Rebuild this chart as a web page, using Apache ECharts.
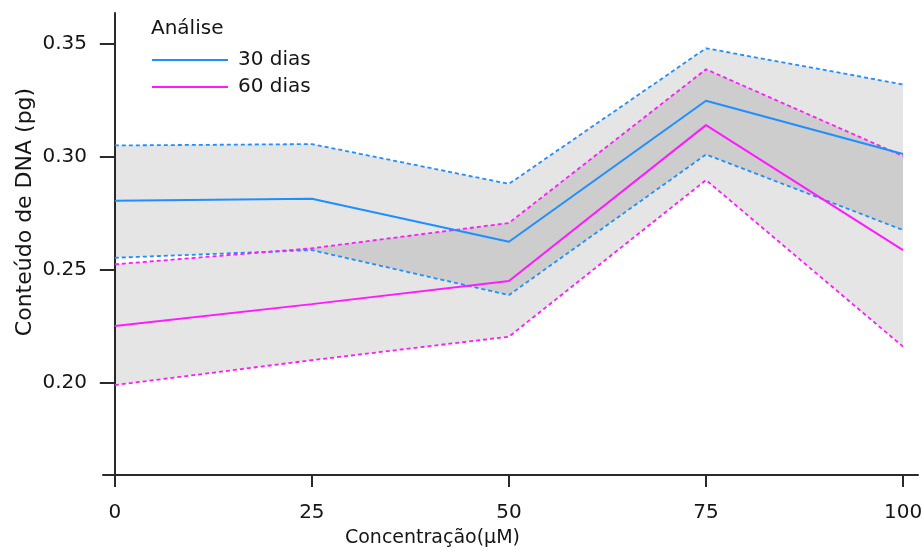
<!DOCTYPE html>
<html>
<head>
<meta charset="utf-8">
<script src="https://cdn.jsdelivr.net/npm/echarts@6/dist/echarts.min.js"></script>
<style>
  html, body { margin: 0; padding: 0; background: #fff; }
  #chart { width: 922px; height: 552px; }
</style>
</head>
<body>
<div id="chart"></div>
<script>
// concentration (µM)
const concentracao = [0, 25, 50, 75, 100];

// 30 dias: mean and band limits
const media30 = [0.2805, 0.2814, 0.2624, 0.3248, 0.3012];
const sup30 = [0.3050, 0.3056, 0.2880, 0.3480, 0.3320];
const inf30 = [0.2553, 0.2587, 0.2388, 0.3010, 0.2676];

// 60 dias: mean and band limits
const media60 = [0.2251, 0.2348, 0.2450, 0.3140, 0.2587];
const sup60 = [0.2524, 0.2595, 0.2707, 0.3387, 0.3003];
const inf60 = [0.1990, 0.2100, 0.2204, 0.2897, 0.2160];

const xTicks = [0, 25, 50, 75, 100];
const yTicks = [0.20, 0.25, 0.30, 0.35];

const AZUL = '#1f8fff';
const ROSA = '#ff1aff';
const FONTE = 'DejaVu Sans';
const TEXTO = '#151515';

function pares(ys) {
  return concentracao.map((x, i) => [x, ys[i]]);
}

function faixa(nome, sup, inf) {
  return {
    type: 'custom',
    name: nome,
    silent: true,
    z: 1,
    data: [[concentracao[0], inf[0]]],
    renderItem: function (params, api) {
      const pts = [];
      concentracao.forEach((x, i) => pts.push(api.coord([x, sup[i]])));
      for (let i = concentracao.length - 1; i >= 0; i--) {
        pts.push(api.coord([concentracao[i], inf[i]]));
      }
      return {
        type: 'polygon',
        shape: { points: pts },
        style: { fill: 'rgba(0,0,0,0.1)' }
      };
    }
  };
}

function linha(nome, ys, cor, pontilhada) {
  return {
    type: 'line',
    name: nome,
    data: pares(ys),
    symbol: 'none',
    z: pontilhada ? 2 : 3,
    lineStyle: {
      color: cor,
      width: pontilhada ? 1.8 : 2,
      type: pontilhada ? [4, 3] : 'solid'
    },
    itemStyle: { color: cor }
  };
}

const chart = echarts.init(document.getElementById('chart'));

chart.setOption({
  animation: false,
  backgroundColor: '#fff',
  textStyle: { fontFamily: FONTE },
  grid: { left: 103, right: 4, top: 13, bottom: 77, outerBoundsMode: 'none', containLabel: false },
  title: {
    text: 'Análise',
    left: 151,
    top: 19,
    padding: 0,
    textStyle: { fontFamily: FONTE, fontSize: 20, fontWeight: 'normal', color: TEXTO }
  },
  legend: {
    data: ['30 dias', '60 dias'],
    orient: 'vertical',
    left: 152,
    top: 50,
    padding: 0,
    icon: 'rect',
    itemWidth: 76,
    itemHeight: 2,
    itemGap: 7,
    textStyle: { fontFamily: FONTE, fontSize: 20, lineHeight: 18, color: TEXTO, padding: [0, 0, 0, 5] }
  },
  xAxis: {
    type: 'value',
    min: -1.5,
    max: 101.9,
    name: 'Concentração(µM)',
    nameLocation: 'middle',
    nameGap: 54,
    nameMoveOverlap: false,
    nameTextStyle: { fontFamily: FONTE, fontSize: 19, color: TEXTO, padding: [0, 156, 0, 0] },
    splitLine: { show: false },
    axisLine: { lineStyle: { color: '#2a2a2a', width: 2 } },
    axisTick: { customValues: xTicks, length: 12, lineStyle: { color: '#2a2a2a', width: 2 } },
    axisLabel: { customValues: xTicks, margin: 28, fontSize: 20, color: TEXTO, fontFamily: FONTE }
  },
  yAxis: {
    type: 'value',
    min: 0.1592,
    max: 0.3636,
    splitNumber: 4,
    name: 'Conteúdo de DNA (pg)',
    nameLocation: 'middle',
    nameGap: 67,
    nameMoveOverlap: false,
    nameTextStyle: { fontFamily: FONTE, fontSize: 22, color: TEXTO, padding: [0, 0, 0, 64] },
    splitLine: { show: false },
    axisLine: { onZero: true, lineStyle: { color: '#2a2a2a', width: 2 } },
    axisTick: { customValues: yTicks, length: 15, lineStyle: { color: '#2a2a2a', width: 2 } },
    axisLabel: {
      customValues: yTicks,
      margin: 16,
      fontSize: 20,
      color: TEXTO,
      fontFamily: FONTE,
      formatter: v => v.toFixed(2)
    }
  },
  series: [
    faixa('faixa 30 dias', sup30, inf30),
    faixa('faixa 60 dias', sup60, inf60),
    linha('30 dias sup', sup30, AZUL, true),
    linha('30 dias inf', inf30, AZUL, true),
    linha('60 dias sup', sup60, ROSA, true),
    linha('60 dias inf', inf60, ROSA, true),
    linha('30 dias', media30, AZUL, false),
    linha('60 dias', media60, ROSA, false)
  ]
});
</script>
</body>
</html>
